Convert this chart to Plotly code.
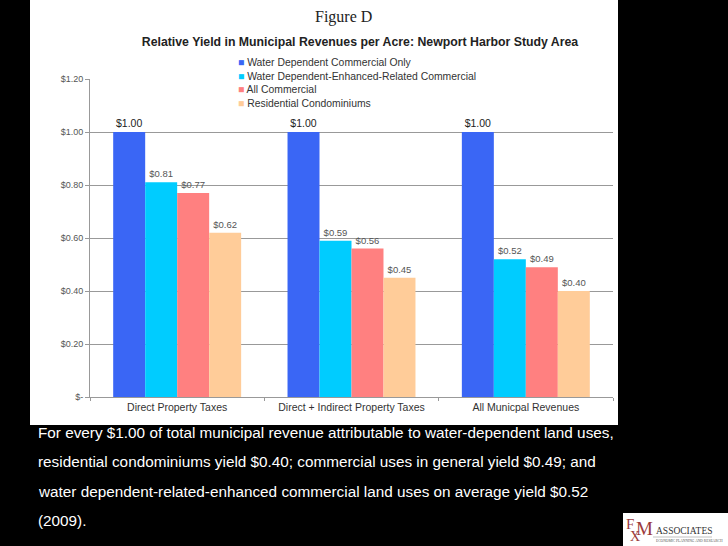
import plotly.graph_objects as go

categories = ["Direct Property Taxes", "Direct + Indirect Property Taxes", "All Municpal Revenues"]
series_names = [
    "Water Dependent Commercial Only",
    "Water Dependent-Enhanced-Related Commercial",
    "All Commercial",
    "Residential Condominiums",
]
series_values = [
    [1.00, 1.00, 1.00],
    [0.81, 0.59, 0.52],
    [0.77, 0.56, 0.49],
    [0.62, 0.45, 0.40],
]
y_ticks = [0, 0.2, 0.4, 0.6, 0.8, 1.0, 1.2]
y_tick_labels = ["$-", "$0.20", "$0.40", "$0.60", "$0.80", "$1.00", "$1.20"]
caption_lines = [
    "For every $1.00 of total municipal revenue attributable to water-dependent land uses,",
    "residential condominiums yield $0.40; commercial uses in general yield $0.49; and",
    "water dependent-related-enhanced commercial land uses on average yield $0.52",
    "(2009).",
]

colors = ["#3a66f5", "#00ccff", "#ff8080", "#ffcc99"]

W, H = 728, 546
L, R, T, B = 90, 613, 79, 397  # plot area in pixels


def px(x):
    return (x - L) / (R - L)


def py(y):
    return (B - y) / (B - T)


def note(text, x, y, size, color, family="Liberation Sans", xanchor="left"):
    return dict(text=text, x=px(x), y=py(y), xref="paper", yref="paper",
                xanchor=xanchor, yanchor="middle", showarrow=False,
                font=dict(family=family, size=size, color=color))


fig = go.Figure()
for i, (name, vals) in enumerate(zip(series_names, series_values)):
    first = i == 0
    fig.add_trace(
        go.Bar(
            x=categories,
            y=vals,
            name=name,
            marker=dict(color=colors[i], line=dict(width=0)),
            text=[f"${v:.2f}" for v in vals],
            textposition="outside",
            cliponaxis=False,
            textfont=dict(
                size=10.5 if first else 9.5,
                color="#222222" if first else "#555555",
            ),
        )
    )

shapes = [
    # white chart panel
    dict(type="rect", xref="paper", yref="paper", layer="below",
         x0=px(30), x1=px(618), y0=py(425), y1=py(-2),
         fillcolor="white", line=dict(width=0)),
    # logo box
    dict(type="rect", xref="paper", yref="paper", layer="below",
         x0=px(623), x1=px(730), y0=py(548), y1=py(513),
         fillcolor="white", line=dict(width=0)),
    dict(type="line", xref="paper", yref="paper",
         x0=px(653), x1=px(712), y0=py(537), y1=py(537),
         line=dict(color="#999999", width=0.6)),
]

# legend drawn as one block so rows sit as tight as in the original
legend_text = "<br>".join(
    f"<span style='color:{c}'>■</span> {n}" for c, n in zip(colors, series_names)
)

annotations = [
    note("Figure D", 343, 17, 16, "#222222", family="Liberation Serif", xanchor="center"),
    dict(text=legend_text, x=px(236), y=py(55), xref="paper", yref="paper",
         xanchor="left", yanchor="top", align="left", showarrow=False,
         font=dict(size=10.4, color="#333333")),
    # FXM Associates logo
    note("F", 624, 524, 15, "#9b3b3b", family="Liberation Serif"),
    note("X", 628, 536, 14, "#9b3b3b", family="Liberation Serif"),
    note("M", 634, 528, 19, "#9b3b3b", family="Liberation Serif"),
    note("ASSOCIATES", 654, 531, 9.5, "#333333", family="Liberation Serif"),
    note("ECONOMIC PLANNING AND RESEARCH", 654, 541, 3.6, "#555555", family="Liberation Serif"),
]
for k, line in enumerate(caption_lines):
    annotations.append(note(line, 36, 432 + k * 29.5, 15.3, "white"))

fig.update_layout(
    width=W,
    height=H,
    margin=dict(l=L, r=W - R, t=T, b=H - B),
    paper_bgcolor="black",
    plot_bgcolor="rgba(0,0,0,0)",
    font=dict(family="Liberation Sans", color="#333333"),
    barmode="group",
    bargap=0.266,
    bargroupgap=0,
    title=dict(
        text="<b>Relative Yield in Municipal Revenues per Acre: Newport Harbor Study Area</b>",
        x=px(360), xanchor="center", y=1 - 42 / H, yanchor="middle",
        xref="paper",
        font=dict(size=12.3, color="#222222"),
    ),
    shapes=shapes,
    annotations=annotations,
    showlegend=False,
)
fig.update_yaxes(
    range=[0, 1.2],
    tickvals=y_ticks,
    ticktext=y_tick_labels,
    tickfont=dict(size=9, color="#555555"),
    showline=True,
    linecolor="#999999",
    linewidth=1,
    ticks="outside",
    ticklen=4,
    tickcolor="#999999",
    showgrid=True,
    gridcolor="#999999",
    gridwidth=1,
    zeroline=False,
)
fig.update_xaxes(
    tickfont=dict(size=10.5, color="#333333"),
    showline=True,
    linecolor="#999999",
    ticks="outside",
    tickson="boundaries",
    ticklen=3,
    tickcolor="#999999",
    showgrid=False,
)

fig.write_html(
    "out.html",
    config={"displayModeBar": False},
    post_script="document.body.style.margin = '0';",
)
